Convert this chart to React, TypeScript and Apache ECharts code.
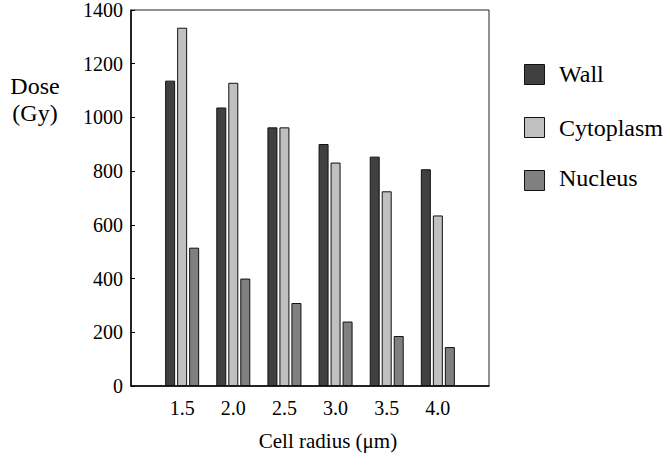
import React, { useEffect, useRef } from "react";
import * as echarts from "echarts";

const radii = [1.5, 2.0, 2.5, 3.0, 3.5, 4.0];
const wall = [1137, 1037, 963, 901, 854, 807];
const cytoplasm = [1334, 1129, 963, 832, 725, 635];
const nucleus = [515, 400, 309, 240, 186, 145];
const seriesNames = ["Wall", "Cytoplasm", "Nucleus"];
const seriesColors = ["#404040", "#c0c0c0", "#808080"];
const yTicks = [0, 200, 400, 600, 800, 1000, 1200, 1400];

const FONT = "Liberation Serif";

export default function App() {
  const ref = useRef<HTMLDivElement>(null);
  useEffect(() => {
    document.body.style.margin = "0";
    if (!ref.current) return;
    const chart = echarts.init(ref.current, undefined, { renderer: "svg" });
    const mk = (name: string, vals: number[], color: string) => ({
      name,
      type: "bar",
      data: radii.map((r, i) => [r, vals[i]]),
      barWidth: 10,
      barGap: "20%",
      itemStyle: { color, borderColor: "#111", borderWidth: 1 },
    });
    const legendY = [74, 128, 178];
    chart.setOption({
      animation: false,
      backgroundColor: "#fff",
      textStyle: { fontFamily: FONT, color: "#000" },
      grid: {
        left: 131,
        top: 9,
        right: 181,
        bottom: 82,
        show: true,
        borderColor: "#222",
        borderWidth: 1,
      },
      legend: {
        orient: "vertical",
        left: 519,
        top: 59,
        itemWidth: 20,
        itemHeight: 20,
        itemGap: 32,
        icon: "rect",
        data: seriesNames,
        formatter: () => "",
        textStyle: { fontSize: 1 },
        itemStyle: { borderColor: "#111", borderWidth: 1 },
      },
      xAxis: {
        type: "value",
        min: 1,
        max: 4.5,
        interval: 0.5,
        axisLine: { show: true, onZero: false, lineStyle: { color: "#000", width: 1.5 } },
        axisTick: { show: false },
        splitLine: { show: false },
        axisLabel: {
          fontFamily: FONT,
          fontSize: 20,
          color: "#000",
          margin: 12,
          formatter: (v: number) => (radii.some((r) => Math.abs(r - v) < 1e-6) ? v.toFixed(1) : ""),
        },
      },
      yAxis: {
        type: "value",
        min: yTicks[0],
        max: yTicks[yTicks.length - 1],
        interval: 200,
        axisLine: { show: true, lineStyle: { color: "#000", width: 1.5 } },
        axisTick: { show: true, inside: true, length: 4, lineStyle: { color: "#000" } },
        splitLine: { show: false },
        axisLabel: {
          fontFamily: FONT,
          fontSize: 20,
          color: "#000",
          margin: 8,
          formatter: (v: number) => String(v),
        },
      },
      graphic: [
        {
          type: "text",
          x: 35,
          y: 72,
          scaleX: 1.2,
          scaleY: 1.2,
          style: {
            text: "Dose\n(Gy)",
            font: `20px ${FONT}`,
            fill: "#000",
            align: "center",
            verticalAlign: "top",
            lineHeight: 23,
          },
        },
        {
          type: "text",
          x: 328,
          y: 430,
          style: {
            text: "Cell radius (μm)",
            font: `21px ${FONT}`,
            fill: "#000",
            align: "center",
            verticalAlign: "top",
          },
        },
        ...seriesNames.map((n, i) => ({
          type: "text",
          x: 559,
          y: legendY[i],
          scaleX: 1.2,
          scaleY: 1.2,
          style: {
            text: n,
            font: `20px ${FONT}`,
            fill: "#000",
            align: "left",
            verticalAlign: "middle",
          },
        })),
      ],
      series: seriesNames.map((n, i) => mk(n, [wall, cytoplasm, nucleus][i], seriesColors[i])),
    });
    return () => chart.dispose();
  }, []);
  return <div ref={ref} style={{ width: 670, height: 468 }} />;
}
